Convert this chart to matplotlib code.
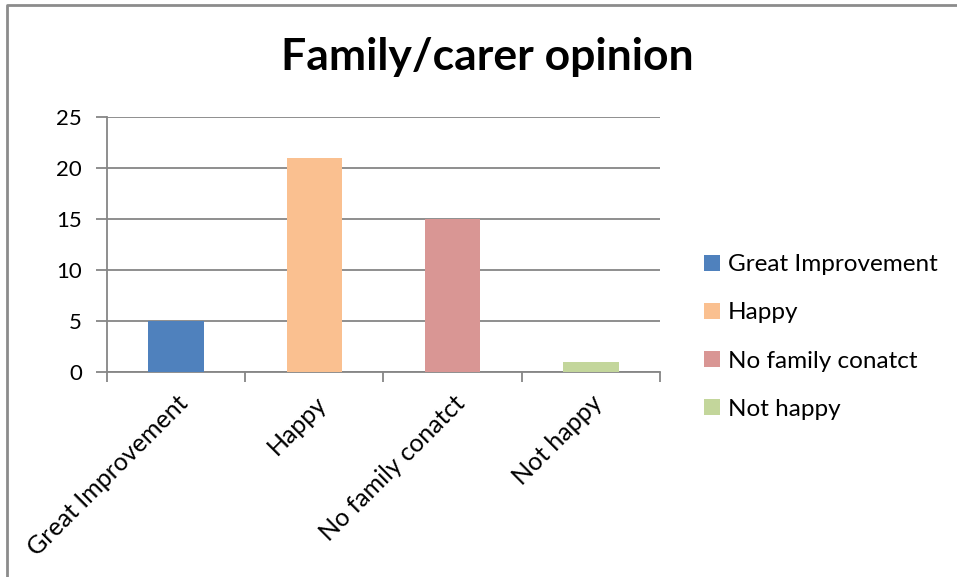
import matplotlib.pyplot as plt
from matplotlib.lines import Line2D
from matplotlib.patches import Patch

plt.rcParams['font.family'] = ['Lato', 'DejaVu Sans']

categories = ['Great Improvement', 'Happy', 'No family conatct', 'Not happy']
counts = [5, 21, 15, 1]
colors = ['#4F81BD', '#FAC090', '#D99694', '#C3D69B']
yticks = [0, 5, 10, 15, 20, 25]

grid_col = '#868686'

fig = plt.figure(figsize=(9.57, 5.77), dpi=100)
ax = fig.add_axes([107 / 957, 1 - 372 / 577, 553 / 957, 255 / 577])

x = range(len(categories))
ax.bar(x, counts, width=0.4, color=colors, zorder=3)

ax.set_xlim(-0.5, len(categories) - 0.5)
ax.set_ylim(0, 25)
ax.set_yticks(yticks)
ax.set_yticklabels([str(v) for v in yticks], fontsize=16)
ax.yaxis.grid(True, color=grid_col, linewidth=1.3, zorder=0)

# category labels sit under the bars, tick marks sit on the boundaries
ax.set_xticks(list(x))
ax.set_xticklabels(categories, rotation=45, ha='right', rotation_mode='anchor', fontsize=18)
ax.tick_params(axis='x', which='major', length=0, pad=14)
ax.set_xticks([i - 0.5 for i in range(len(categories) + 1)], minor=True)
ax.tick_params(axis='x', which='minor', length=7, width=1.3, color=grid_col, direction='out')
ax.tick_params(axis='y', length=8, width=1.3, color=grid_col, direction='out', pad=10)

for s in ['top', 'right']:
    ax.spines[s].set_visible(False)
for s in ['left', 'bottom']:
    ax.spines[s].set_color(grid_col)
    ax.spines[s].set_linewidth(1.3)

fig.text(487 / 957, 1 - 57 / 577, 'Family/carer opinion', ha='center', va='center',
         fontsize=32, fontweight='bold')

handles = [Patch(facecolor=c, edgecolor='none') for c in colors]
fig.legend(handles, categories, loc='center left', bbox_to_anchor=(682 / 957, 1 - 337 / 577),
           frameon=False, fontsize=17.5, handlelength=0.65, handleheight=0.65,
           handletextpad=0.35, labelspacing=1.12)

# chart frame, only top and left edges fall inside the canvas
fig.add_artist(Line2D([7 / 957, 7 / 957, 1.0], [0.0, 1 - 5 / 577, 1 - 5 / 577],
                      color='#8c8c8c', linewidth=2, transform=fig.transFigure))

fig.savefig('out.png', dpi=100)
